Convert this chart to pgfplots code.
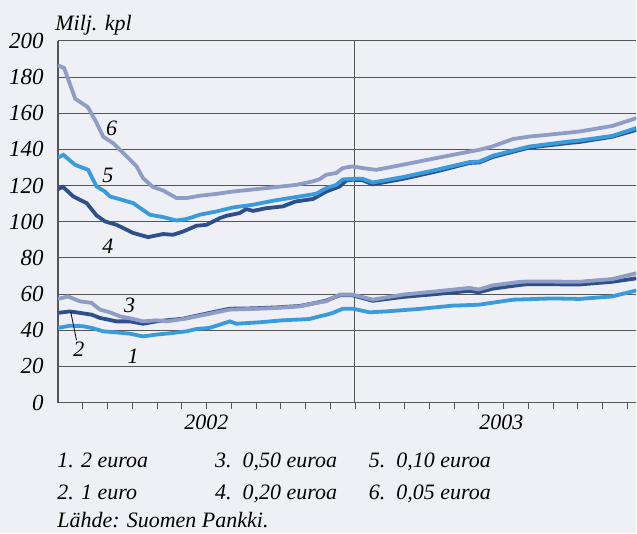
\documentclass[border=0pt]{standalone}
\usepackage{fontspec}
\setmainfont{Liberation Serif}
\usepackage{pgfplots}
\pgfplotsset{compat=1.18}
\definecolor{bgc}{RGB}{239,240,245}
\definecolor{lightser}{RGB}{142,157,197}
\definecolor{brightser}{RGB}{58,155,220}
\definecolor{darkser}{RGB}{47,79,138}
\definecolor{gridc}{RGB}{85,85,85}
\newcommand{\chartfont}{\fontsize{11}{13}\selectfont\itshape}
\begin{document}
\begin{tikzpicture}[font=\chartfont]
% background and page size
\fill[bgc] (-29pt,-65.5pt) rectangle (289.5pt,201.5pt);
\begin{axis}[
    at={(0,0)}, anchor=south west,
    scale only axis,
    width=289.5pt, height=181pt,
    xmin=0, xmax=23.37, ymin=0, ymax=200,
    axis x line*=bottom, axis y line*=left,
    axis line style={gridc, line width=0.7pt, -},
    xtick={1,2,...,23},
    xticklabels={},
    x tick style={gridc, line width=0.4pt},
    xtick align=outside, major tick length=3pt,
    ytick={0,20,...,200},
    y tick style={draw=none},
    ymajorgrids,
    major grid style={gridc, line width=0.5pt},
    /pgf/number format/assume math mode=true,
    yticklabel={\textit{\pgfmathprintnumber{\tick}}},
    yticklabel style={inner sep=0pt, xshift=-7pt, font=\fontsize{11.5}{13}\selectfont\itshape},
    clip=true,
]
\draw[gridc, line width=0.5pt] (axis cs:12,0) -- (axis cs:12,200);
% 4. 0,20 euroa
\addplot[darkser, line width=1.9pt] coordinates {
(0,118) (0.2,119.3) (0.62,114) (1.16,110.3) (1.56,103.5) (1.9,100.2) (2.37,98.3)
(3.04,93.8) (3.64,91.5) (4.25,93.2) (4.65,92.8) (5.06,94.6) (5.6,97.8) (6.0,98.3)
(6.54,102) (6.81,103.3) (7.34,104.8) (7.61,107) (7.88,106) (8.42,107.5) (9.09,108.5)
(9.6,111.2) (10.31,112.6) (10.84,116.7) (11.38,119.5) (11.65,122.8) (11.9,123.2)
(12.3,123) (12.72,120.7) (13.94,123.7) (15.28,127.8) (16.63,132.5) (17.03,132.8)
(17.57,135.8) (18.64,139.6) (19.05,141) (20.66,143.6) (21.06,144.1) (22.4,147) (23.37,150.8)
};
% 5. 0,10 euroa
\addplot[brightser, line width=1.9pt] coordinates {
(0,135.5) (0.22,137) (0.69,131.5) (1.22,128.7) (1.56,119.5) (1.9,116.7) (2.1,114)
(2.57,112.2) (3.04,110.3) (3.71,103.9) (4.24,102.6) (4.79,100.7) (5.2,101.5)
(5.73,103.9) (6.41,105.7) (7.07,107.9) (7.88,109.4) (8.69,111.6) (9.77,114)
(10.44,115.5) (10.57,116.5) (10.84,118.6) (11.25,120.4) (11.51,123.4) (11.9,123.7)
(12.3,123.8) (12.72,121.7) (13.94,124.7) (15.28,128.7) (16.63,133) (17.03,133.3)
(17.57,136.5) (18.64,140.2) (19.05,141.6) (20.66,144.4) (21.06,144.9) (22.4,147.5) (23.37,151.8)
};
% 6. 0,05 euroa
\addplot[lightser, line width=1.9pt] coordinates {
(0,186.5) (0.25,185) (0.7,168) (1.2,163.5) (1.35,160) (1.55,155) (1.83,147)
(2.23,143.5) (2.64,138) (3.18,130.6) (3.44,124.1) (3.84,119.2) (4.25,117.3)
(4.79,113.1) (5.2,113.1) (5.73,114.4) (6.34,115.3) (7.06,116.7) (8.42,118.6)
(9.63,120.4) (10.29,122.3) (10.57,123.5) (10.84,126) (11.25,127) (11.51,129.7)
(11.9,130.6) (12.4,129.5) (12.86,128.7) (13.92,131.5) (15.28,135.2) (16.63,138.8)
(17.03,139.8) (17.55,141.6) (18.37,145.7) (19.05,147.1) (20.66,149.3) (21.06,149.9)
(22.4,153) (23.37,157.3)
};
% 2. 1 euro
\addplot[darkser, line width=1.9pt] coordinates {
(0,49.6) (0.48,50.4) (0.89,49.6) (1.36,48.6) (1.7,46.8) (2.37,44.9) (2.9,44.9)
(3.44,43.6) (3.98,44.9) (4.39,45.5) (5.06,46.4) (5.73,48.4) (6.41,50.4) (6.94,51.9)
(7.88,52.1) (8.82,52.6) (9.77,53.4) (10.44,55.2) (10.84,56.4) (11.38,59.3) (11.9,59.3)
(12.72,56.3) (13.94,58.4) (15.28,60) (16.63,61.8) (17.0,61) (17.57,63) (18.64,65)
(19.0,65.5) (21.06,65.3) (22.4,66.8) (23.37,68.7)
};
% 3. 0,50 euroa
\addplot[lightser, line width=1.9pt] coordinates {
(0,57.3) (0.4,58.7) (0.89,56) (1.36,55.1) (1.7,51.4) (2.1,49.9) (2.5,47.7)
(3.04,46.2) (3.44,44.9) (3.98,45.5) (4.39,44.9) (5.06,46.2) (5.73,48) (6.41,49.9)
(6.94,51.4) (7.88,51.8) (8.82,52.3) (9.77,53.2) (10.44,55.1) (10.84,56) (11.38,59.7)
(11.9,59.7) (12.72,56.9) (13.94,59.7) (15.28,61.5) (16.63,63.4) (17.0,62.5)
(17.57,64.8) (18.64,66.7) (19.0,67) (21.06,66.8) (22.4,68.3) (23.37,71.5)
};
% 1. 2 euroa
\addplot[brightser, line width=1.9pt] coordinates {
(0,41.3) (0.48,42.5) (1.02,42.2) (1.36,41.3) (1.83,39.4) (2.37,38.8) (2.9,38.1)
(3.44,36.6) (3.98,37.6) (4.65,38.5) (5.2,39.4) (5.6,40.7) (6.13,41.3) (6.54,43.1)
(6.94,44.9) (7.21,43.6) (8.15,44.4) (9.09,45.5) (10.17,46.2) (10.51,47.5) (10.84,48.5)
(11.11,49.6) (11.51,51.9) (11.92,51.9) (12.59,49.9) (13.26,50.4) (14.61,51.8)
(15.95,53.6) (17.0,54.1) (18.4,56.9) (19.99,57.6) (21.06,57.3) (22.4,58.7) (23.37,62)
};
% series numbers
\node at (axis cs:2.17,151.8) {6};
\node at (axis cs:2.02,125.4) {5};
\node at (axis cs:2.02,86.7) {4};
\node at (axis cs:2.9,53.6) {3};
\node at (axis cs:0.85,29.7) {2};
\node at (axis cs:3.04,25.6) {1};
\draw[black, line width=0.4pt] (axis cs:0.75,34.5) -- (axis cs:0.52,50);
\end{axis}
% unit label
\node[anchor=base west, inner sep=0pt] at (-1.5pt,186pt) {Milj. kpl};
% year labels
\node[anchor=base, inner sep=0pt] at (74.3pt,-13.5pt) {2002};
\node[anchor=base, inner sep=0pt] at (222pt,-13.5pt) {2003};
% legend text
\node[anchor=base west, inner sep=0pt] at (-0.5pt,-32.5pt) {1. 2 euroa};
\node[anchor=base west, inner sep=0pt] at (78.5pt,-32.5pt) {3.\ \ 0,50 euroa};
\node[anchor=base west, inner sep=0pt] at (155.5pt,-32.5pt) {5.\ \ 0,10 euroa};
\node[anchor=base west, inner sep=0pt] at (-0.5pt,-48.5pt) {2. 1 euro};
\node[anchor=base west, inner sep=0pt] at (78.5pt,-48.5pt) {4.\ \ 0,20 euroa};
\node[anchor=base west, inner sep=0pt] at (155.5pt,-48.5pt) {6.\ \ 0,05 euroa};
\node[anchor=base west, inner sep=0pt] at (-0.5pt,-62.5pt) {Lähde: Suomen Pankki.};
\end{tikzpicture}
\end{document}
